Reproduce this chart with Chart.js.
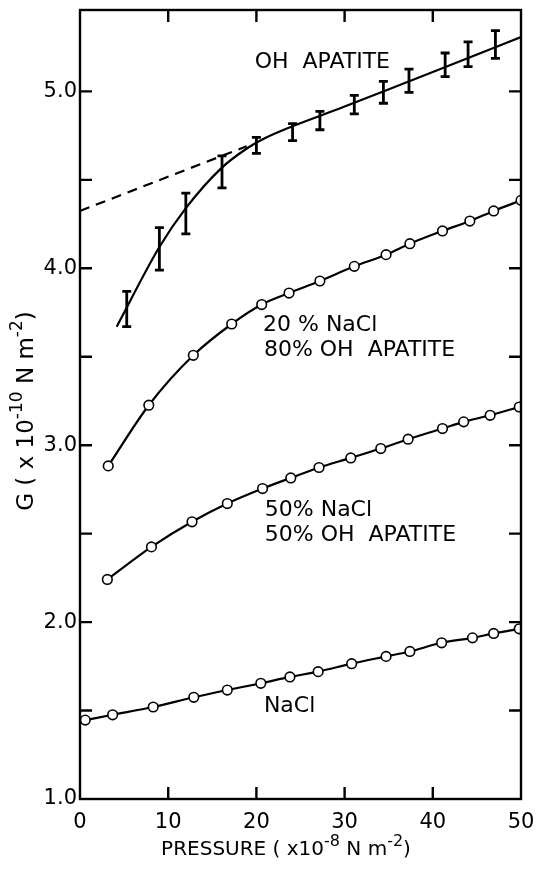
<!DOCTYPE html>
<html>
<head>
<meta charset="utf-8">
<script src="https://cdn.jsdelivr.net/npm/chart.js@4/dist/chart.umd.min.js"></script>
<style>
  html, body { margin: 0; padding: 0; background: #fff; }
  #wrap { width: 537px; height: 871px; }
</style>
</head>
<body>
<div id="wrap"><canvas id="c" width="537" height="871"></canvas></div>
<script>
// Shear modulus G versus pressure for NaCl, OH apatite and their mixtures.

// Pure NaCl
const pressureNaCl = [0.6, 3.7, 8.3, 12.9, 16.7, 20.5, 23.8, 27.0, 30.8, 34.7, 37.4, 41.0, 44.5, 46.9, 49.8];
const gNaCl        = [1.446, 1.476, 1.52, 1.575, 1.616, 1.654, 1.69, 1.72, 1.765, 1.806, 1.834, 1.883, 1.911, 1.936, 1.962];

// 50 % NaCl / 50 % OH apatite
const pressure50 = [3.1, 8.1, 12.7, 16.7, 20.7, 23.9, 27.1, 30.7, 34.1, 37.2, 41.1, 43.5, 46.5, 49.8];
const g50        = [2.241, 2.425, 2.567, 2.67, 2.755, 2.815, 2.874, 2.928, 2.981, 3.034, 3.094, 3.132, 3.169, 3.216];

// 20 % NaCl / 80 % OH apatite
const pressure20 = [3.2, 7.8, 12.85, 17.2, 20.6, 23.7, 27.2, 31.1, 34.7, 37.4, 41.1, 44.2, 46.9, 50.0];
const g20        = [2.883, 3.226, 3.508, 3.685, 3.795, 3.86, 3.928, 4.011, 4.077, 4.139, 4.211, 4.267, 4.324, 4.384];

// OH apatite: measured means with error half-widths
const pressureOH = [5.3, 9.0, 12.0, 16.1, 20.0, 24.1, 27.2, 31.1, 34.4, 37.3, 41.4, 44.0, 47.1];
const gOH        = [3.77, 4.11, 4.31, 4.545, 4.695, 4.77, 4.835, 4.925, 4.995, 5.06, 5.15, 5.21, 5.265];
const gOHErr     = [0.10, 0.12, 0.115, 0.09, 0.045, 0.048, 0.052, 0.052, 0.062, 0.066, 0.067, 0.07, 0.078];

// OH apatite: drawn trend curve and its linear extrapolation to zero pressure
const ohCurveP = [4.16, 9.0, 12.0, 16.0, 19.0, 21.0, 30.0, 40.0, 50.0];
const ohCurveG = [3.67, 4.12, 4.34, 4.565, 4.68, 4.737, 4.914, 5.11, 5.307];
const ohDashP  = [0, 18.9];
const ohDashG  = [4.324, 4.69];

// Axis ranges and tick steps
const xRange = [0, 50];
const yRange = [1.0, 5.46];
const xStep = 10;
const yStep = 0.5;

// Curve labels: text lines and the data point where each line starts
const labelTexts = ['OH  APATITE', '20 % NaCl', '80% OH  APATITE', '50% NaCl', '50% OH  APATITE', 'NaCl'];
const labelP     = [19.8, 20.75, 20.85, 20.95, 20.95, 20.85];
const labelG     = [5.166, 3.68, 3.538, 2.634, 2.492, 1.526];

const FONT = '"DejaVu Sans", sans-serif';
const INK = '#000';

function toXY(xs, ys) { return xs.map((x, i) => ({ x: x, y: ys[i] })); }

// Draws text that mixes normal and superscript runs, optionally rotated.
function drawRich(ctx, parts, cx, cy, size, supSize, rotate) {
  ctx.save();
  ctx.translate(cx, cy);
  if (rotate) ctx.rotate(-Math.PI / 2);
  let total = 0;
  parts.forEach(p => {
    ctx.font = (p.sup ? supSize : size) + 'px ' + FONT;
    total += ctx.measureText(p.t).width;
  });
  let x = -total / 2;
  ctx.fillStyle = INK;
  ctx.textBaseline = 'middle';
  ctx.textAlign = 'left';
  parts.forEach(p => {
    ctx.font = (p.sup ? supSize : size) + 'px ' + FONT;
    ctx.fillText(p.t, x, p.sup ? -size * 0.42 : 0);
    x += ctx.measureText(p.t).width;
  });
  ctx.restore();
}

const framePlugin = {
  id: 'frame',
  afterDraw(chart) {
    const { ctx, chartArea: a, scales } = chart;
    const xs = scales.x, ys = scales.y;
    const L = 12;
    ctx.save();
    ctx.strokeStyle = INK;
    ctx.lineWidth = 2.4;
    ctx.strokeRect(a.left, a.top, a.right - a.left, a.bottom - a.top);
    ctx.beginPath();
    ys.ticks.forEach(t => {
      const py = ys.getPixelForValue(t.value);
      if (Math.abs(py - a.bottom) < 1 || Math.abs(py - a.top) < 1) return;
      ctx.moveTo(a.left, py); ctx.lineTo(a.left + L, py);
      ctx.moveTo(a.right, py); ctx.lineTo(a.right - L, py);
    });
    xs.ticks.forEach(t => {
      const px = xs.getPixelForValue(t.value);
      if (Math.abs(px - a.left) < 1 || Math.abs(px - a.right) < 1) return;
      ctx.moveTo(px, a.bottom); ctx.lineTo(px, a.bottom - L);
      ctx.moveTo(px, a.top); ctx.lineTo(px, a.top + L);
    });
    ctx.stroke();
    ctx.restore();

    // axis titles
    drawRich(ctx, [
      { t: 'PRESSURE ( x10' }, { t: '-8', sup: true }, { t: ' N m' }, { t: '-2', sup: true }, { t: ')' }
    ], 286, 850, 20, 16, false);
    drawRich(ctx, [
      { t: 'G ( x 10' }, { t: '-10', sup: true }, { t: ' N m' }, { t: '-2', sup: true }, { t: ')' }
    ], 27, 411, 23, 17, true);

    // curve labels
    ctx.save();
    ctx.fillStyle = INK;
    ctx.font = '22px ' + FONT;
    ctx.textAlign = 'left';
    ctx.textBaseline = 'middle';
    labelTexts.forEach((s, i) => {
      ctx.fillText(s, xs.getPixelForValue(labelP[i]), ys.getPixelForValue(labelG[i]));
    });
    ctx.restore();
  }
};

const errorBarPlugin = {
  id: 'errorBars',
  afterDatasetsDraw(chart) {
    const { ctx, scales } = chart;
    const xs = scales.x, ys = scales.y;
    const cap = 4.5;
    ctx.save();
    ctx.strokeStyle = INK;
    ctx.lineWidth = 2.8;
    ctx.beginPath();
    pressureOH.forEach((p, i) => {
      const px = xs.getPixelForValue(p);
      const yt = ys.getPixelForValue(gOH[i] + gOHErr[i]);
      const yb = ys.getPixelForValue(gOH[i] - gOHErr[i]);
      ctx.moveTo(px, yt); ctx.lineTo(px, yb);
      ctx.moveTo(px - cap, yt); ctx.lineTo(px + cap, yt);
      ctx.moveTo(px - cap, yb); ctx.lineTo(px + cap, yb);
    });
    ctx.stroke();
    ctx.restore();
  }
};

const circleSeries = (xs, ys) => ({
  data: toXY(xs, ys),
  showLine: true,
  borderColor: INK,
  borderWidth: 2.2,
  cubicInterpolationMode: 'monotone',
  pointRadius: 4.8,
  pointBorderWidth: 1.6,
  pointBackgroundColor: '#fff',
  pointBorderColor: INK
});

new Chart(document.getElementById('c'), {
  type: 'scatter',
  data: {
    datasets: [
      circleSeries(pressureNaCl, gNaCl),
      circleSeries(pressure50, g50),
      circleSeries(pressure20, g20),
      {
        data: toXY(ohCurveP, ohCurveG),
        showLine: true,
        borderColor: INK,
        borderWidth: 2.2,
        cubicInterpolationMode: 'monotone',
        pointRadius: 0
      },
      {
        data: toXY(ohDashP, ohDashG),
        showLine: true,
        borderColor: INK,
        borderWidth: 2.2,
        borderDash: [10, 7],
        pointRadius: 0
      }
    ]
  },
  options: {
    responsive: false,
    animation: false,
    devicePixelRatio: 1,
    layout: { padding: { top: 10, right: 16, left: 0, bottom: 0 } },
    plugins: { legend: { display: false }, tooltip: { enabled: false } },
    scales: {
      x: {
        type: 'linear',
        min: xRange[0], max: xRange[1],
        grid: { display: false, drawTicks: false },
        border: { display: false },
        ticks: {
          stepSize: xStep, padding: 11, color: INK, autoSkip: false, maxRotation: 0,
          font: { family: FONT, size: 21 }
        },
        afterFit(s) { s.height = 72; s.paddingLeft = 0; s.paddingRight = 0; }
      },
      y: {
        type: 'linear',
        min: yRange[0], max: yRange[1],
        grid: { display: false, drawTicks: false },
        border: { display: false },
        ticks: {
          stepSize: yStep, includeBounds: false, padding: 3, color: INK, autoSkip: false,
          font: { family: FONT, size: 21 },
          callback: v => (Math.abs(v - Math.round(v)) < 1e-9 ? v.toFixed(1) : '')
        },
        afterFit(s) { s.width = 80; s.paddingTop = 0; s.paddingBottom = 0; }
      }
    }
  },
  plugins: [errorBarPlugin, framePlugin]
});
</script>
</body>
</html>
